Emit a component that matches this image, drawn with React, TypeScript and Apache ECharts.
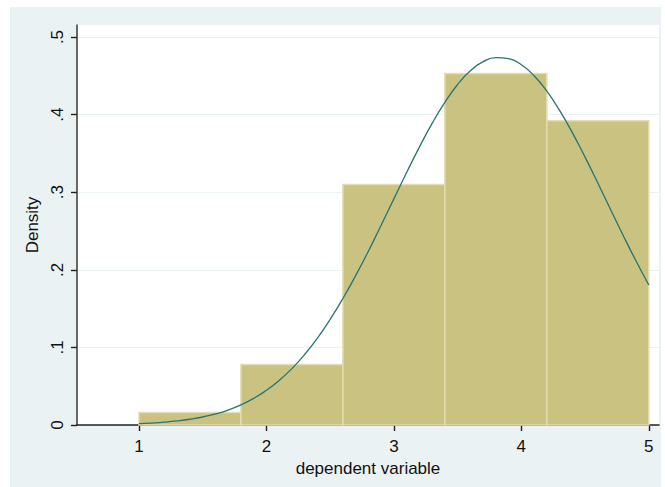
import React, { useEffect, useRef } from "react";
import * as echarts from "echarts";

// Histogram bins (left edge, right edge) and their densities
const binStarts = [1.0, 1.8, 2.6, 3.4, 4.2];
const binEnds = [1.8, 2.6, 3.4, 4.2, 5.0];
const binDensity = [0.016, 0.078, 0.31, 0.453, 0.392];

// Normal density overlay sampled along the x axis
const curveX = [
  1.0, 1.1, 1.2, 1.3, 1.4, 1.5, 1.6, 1.7, 1.8, 1.9, 2.0, 2.1, 2.2, 2.3, 2.4,
  2.5, 2.6, 2.7, 2.8, 2.9, 3.0, 3.1, 3.2, 3.3, 3.4, 3.5, 3.6, 3.7, 3.8, 3.9,
  4.0, 4.1, 4.2, 4.3, 4.4, 4.5, 4.6, 4.7, 4.8, 4.9, 5.0,
];
const curveY = [
  0.0017, 0.0025, 0.0036, 0.0052, 0.0074, 0.0103, 0.0142, 0.0193, 0.0259,
  0.0343, 0.0447, 0.0574, 0.0727, 0.0909, 0.112, 0.136, 0.163, 0.1925, 0.224,
  0.2575, 0.2914, 0.3254, 0.3581, 0.3887, 0.4159, 0.4388, 0.4565, 0.4682,
  0.4735, 0.4721, 0.4642, 0.4501, 0.4302, 0.4054, 0.3768, 0.3452, 0.3119,
  0.2778, 0.244, 0.2113, 0.1804,
];

// Axis tick labels
const xTicks = [1, 2, 3, 4, 5];
const yTicks = [0, 0.1, 0.2, 0.3, 0.4, 0.5];
const yTickLabels = ["0", ".1", ".2", ".3", ".4", ".5"];

const FONT = "'Liberation Sans', Arial, sans-serif";
const FONT_SIZE = 17;

export default function App() {
  const ref = useRef<HTMLDivElement>(null);

  useEffect(() => {
    if (!ref.current) return;
    const chart = echarts.init(ref.current, undefined, { renderer: "svg" });

    const histData = binStarts.map((s, i) => [s, binEnds[i], binDensity[i]]);
    const lineData = curveX.map((x, i) => [x, curveY[i]]);

    chart.setOption({
      animation: false,
      backgroundColor: "#eaf2f3",
      textStyle: { fontFamily: FONT },
      grid: {
        left: 67,
        top: 18,
        width: 582,
        height: 400,
        show: true,
        backgroundColor: "#ffffff",
        borderWidth: 0,
      },
      xAxis: {
        type: "value",
        min: 0.514,
        max: 5.08,
        name: "dependent variable",
        nameLocation: "middle",
        nameGap: 28,
        nameTextStyle: { color: "#111", fontSize: FONT_SIZE, fontFamily: FONT },
        axisLine: { show: true, onZero: false, lineStyle: { color: "#222", width: 1.6 } },
        axisTick: {
          show: true,
          customValues: xTicks,
          length: 6,
          lineStyle: { color: "#222", width: 1.4 },
        },
        axisLabel: {
          customValues: xTicks,
          margin: 13,
          color: "#111",
          fontSize: FONT_SIZE,
          fontFamily: FONT,
        },
        splitLine: { show: false },
      },
      yAxis: {
        type: "value",
        min: 0,
        max: 0.5155,
        interval: 0.1,
        name: "Density",
        nameLocation: "middle",
        nameGap: 32,
        nameTextStyle: { color: "#111", fontSize: FONT_SIZE, fontFamily: FONT },
        axisLine: { show: true, onZero: false, lineStyle: { color: "#444", width: 1.6 } },
        axisTick: {
          show: true,
          customValues: yTicks,
          length: 6,
          lineStyle: { color: "#222", width: 1.4 },
        },
        axisLabel: {
          customValues: yTicks,
          rotate: 90,
          margin: 11,
          color: "#111",
          fontSize: FONT_SIZE,
          fontFamily: FONT,
          formatter: (v: number) => {
            const i = yTicks.findIndex((t) => Math.abs(t - v) < 1e-6);
            return i >= 0 ? yTickLabels[i] : "";
          },
        },
        splitLine: { show: true, lineStyle: { color: "#eaf2f3", width: 1.2 } },
      },
      series: [
        {
          type: "custom",
          data: histData,
          encode: { x: [0, 1], y: 2 },
          renderItem: (params: any, api: any) => {
            const p0 = api.coord([api.value(0), 0]);
            const p1 = api.coord([api.value(1), api.value(2)]);
            return {
              type: "rect",
              shape: {
                x: p0[0],
                y: p1[1],
                width: p1[0] - p0[0],
                height: p0[1] - p1[1],
              },
              style: {
                fill: "#c9c280",
                stroke: "#e2ddb0",
                lineWidth: 1.5,
              },
            };
          },
          z: 2,
        },
        {
          type: "line",
          data: lineData,
          smooth: true,
          showSymbol: false,
          lineStyle: { color: "#2a7370", width: 1.3 },
          z: 3,
        },
      ],
    });

    return () => chart.dispose();
  }, []);

  return (
    <div
      ref={ref}
      style={{
        position: "fixed",
        left: 10,
        top: 7,
        width: 651,
        height: 480,
      }}
    />
  );
}
